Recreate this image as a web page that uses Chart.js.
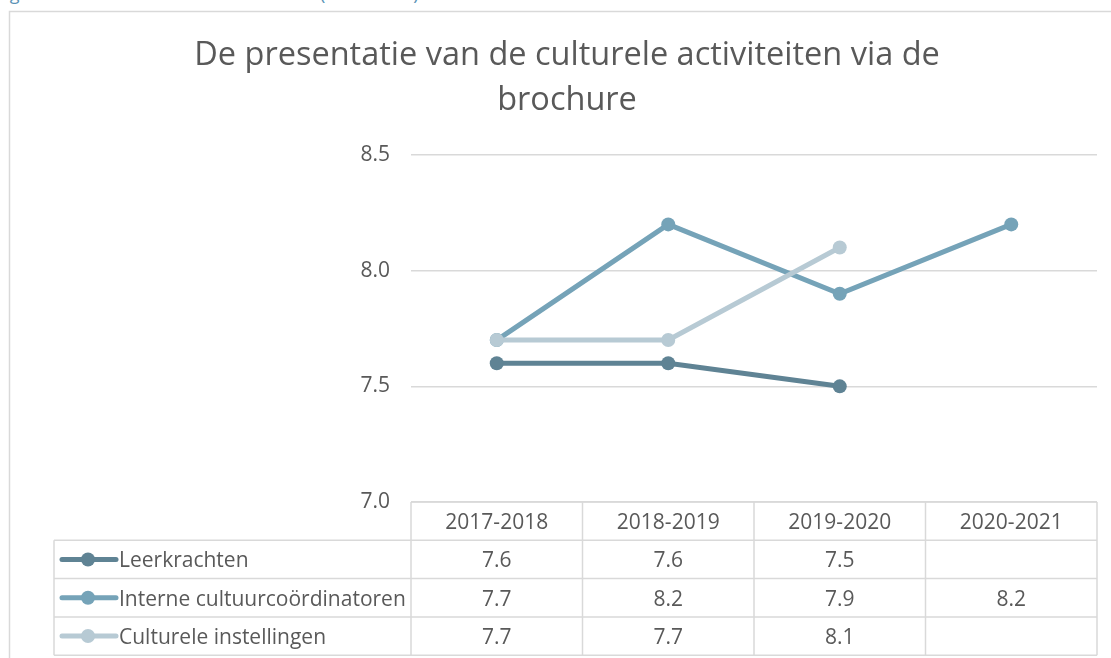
<!DOCTYPE html>
<html>
<head>
<meta charset="utf-8">
<script src="https://cdn.jsdelivr.net/npm/chart.js@4.4.1/dist/chart.umd.min.js"></script>
<style>
  html, body { margin: 0; padding: 0; background: #fff; overflow: hidden; }
  #wrap { position: relative; width: 1111px; height: 658px; overflow: hidden; }
  #caption { position: absolute; left: -4px; top: -19px; font: 18px "Open Sans", sans-serif; color: #5b93b6; white-space: nowrap; }
  canvas { position: absolute; left: 0; top: 0; }
</style>
</head>
<body>
<div id="wrap">
  <div id="caption">Figuur 60: Presentatie via de brochure (2017-2021)</div>
  <canvas id="c" width="1111" height="658"></canvas>
</div>
<script>
// School years shown on the category axis and in the table header
const years = ['2017-2018', '2018-2019', '2019-2020', '2020-2021'];

// Average scores per respondent group
const leerkrachten = [7.6, 7.6, 7.5, null];
const interneCoordinatoren = [7.7, 8.2, 7.9, 8.2];
const cultureleInstellingen = [7.7, 7.7, 8.1, null];

// Value axis ticks
const yTicks = [7.0, 7.5, 8.0, 8.5];

const seriesNames = ['Leerkrachten', 'Interne cultuurcoördinatoren', 'Culturele instellingen'];
const seriesColors = ['#5f8394', '#75a3b8', '#b7cad4'];
const seriesValues = [leerkrachten, interneCoordinatoren, cultureleInstellingen];

const FONT = '"Open Sans", sans-serif';
const GRID = '#d9d9d9';
const TEXT = '#595959';

// Draws the outer frame, the title and the data table under the plot
const decorations = {
  id: 'decorations',
  beforeDraw(chart) {
    const ctx = chart.ctx;
    ctx.save();
    ctx.strokeStyle = GRID;
    ctx.lineWidth = 1.5;
    ctx.beginPath();
    ctx.moveTo(9.5, 700);
    ctx.lineTo(9.5, 11.5);
    ctx.lineTo(1200, 11.5);
    ctx.stroke();
    ctx.fillStyle = TEXT;
    ctx.font = '32.5px ' + FONT;
    ctx.textAlign = 'center';
    ctx.textBaseline = 'middle';
    ctx.fillText('De presentatie van de culturele activiteiten via de', 567, 56);
    ctx.fillText('brochure', 567, 101);
    ctx.restore();
  },
  afterDraw(chart) {
    const ctx = chart.ctx;
    const x = chart.scales.x;
    const area = chart.chartArea;
    const half = (x.getPixelForValue(1) - x.getPixelForValue(0)) / 2;
    const colLeft = area.left;
    const colRight = area.right;
    const tableLeft = 54;
    const rowH = 38.3;
    const top = area.bottom;
    const rows = [top, top + rowH, top + 2 * rowH, top + 3 * rowH, top + 4 * rowH];

    ctx.save();
    ctx.strokeStyle = GRID;
    ctx.lineWidth = 1.5;
    ctx.beginPath();
    // horizontal lines
    ctx.moveTo(colLeft, rows[0]); ctx.lineTo(colRight, rows[0]);
    for (let r = 1; r < rows.length; r++) {
      ctx.moveTo(tableLeft, rows[r]); ctx.lineTo(colRight, rows[r]);
    }
    // vertical lines
    ctx.moveTo(tableLeft, rows[1]); ctx.lineTo(tableLeft, rows[4]);
    for (let i = 0; i <= years.length; i++) {
      const vx = i < years.length ? x.getPixelForValue(i) - half : x.getPixelForValue(years.length - 1) + half;
      ctx.moveTo(vx, rows[0]); ctx.lineTo(vx, rows[4]);
    }
    ctx.stroke();

    ctx.font = '21px ' + FONT;
    ctx.fillStyle = TEXT;
    ctx.textBaseline = 'middle';
    ctx.textAlign = 'center';
    years.forEach((y, i) => ctx.fillText(y, x.getPixelForValue(i), (rows[0] + rows[1]) / 2 + 2));

    seriesValues.forEach((vals, s) => {
      const cy = (rows[s + 1] + rows[s + 2]) / 2;
      vals.forEach((v, i) => {
        if (v !== null) ctx.fillText(v.toFixed(1), x.getPixelForValue(i), cy + 2);
      });
      // legend key
      ctx.strokeStyle = seriesColors[s];
      ctx.lineWidth = 5;
      ctx.lineCap = 'round';
      ctx.beginPath();
      ctx.moveTo(62, cy); ctx.lineTo(116, cy);
      ctx.stroke();
      ctx.fillStyle = seriesColors[s];
      ctx.beginPath();
      ctx.arc(88, cy, 7, 0, Math.PI * 2);
      ctx.fill();
      ctx.fillStyle = TEXT;
      ctx.textAlign = 'left';
      ctx.fillText(seriesNames[s], 119, cy + 2);
      ctx.textAlign = 'center';
    });
    ctx.restore();
  }
};

new Chart(document.getElementById('c'), {
  type: 'line',
  data: {
    labels: years,
    datasets: seriesValues.map((vals, s) => ({
      label: seriesNames[s],
      data: vals,
      borderColor: seriesColors[s],
      backgroundColor: seriesColors[s],
      borderWidth: 5,
      pointRadius: 7,
      pointHoverRadius: 7,
      pointBorderWidth: 0,
      spanGaps: false,
      tension: 0,
      order: 3 - s
    }))
  },
  options: {
    responsive: false,
    animation: false,
    devicePixelRatio: 1,
    layout: { padding: { left: 300, right: 14, top: 155, bottom: 156 } },
    plugins: { legend: { display: false }, tooltip: { enabled: false }, title: { display: false } },
    scales: {
      x: { type: 'category', offset: true, display: false },
      y: {
        min: 7.0,
        max: 8.5,
        afterFit(scale) { scale.width = 111; },
        afterBuildTicks(scale) { scale.ticks = yTicks.map(v => ({ value: v })); },
        border: { display: false },
        grid: { color: GRID, lineWidth: 1.5, drawTicks: false },
        ticks: {
          padding: 21,
          color: TEXT,
          font: { family: FONT, size: 21 },
          callback: v => Number(v).toFixed(1)
        }
      }
    }
  },
  plugins: [decorations]
});
</script>
</body>
</html>
